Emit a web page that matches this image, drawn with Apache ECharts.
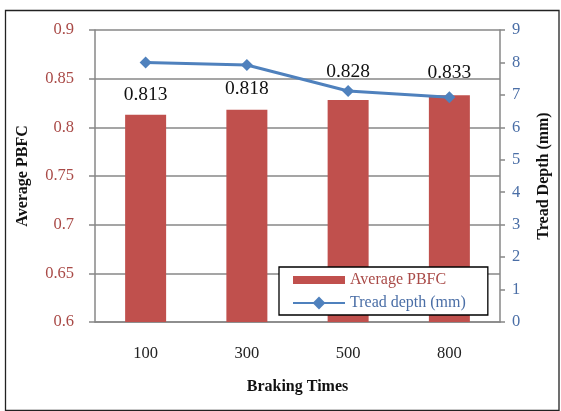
<!DOCTYPE html>
<html>
<head>
<meta charset="utf-8">
<script src="https://cdn.jsdelivr.net/npm/echarts@6/dist/echarts.min.js"></script>
<style>
html,body{margin:0;padding:0;background:#fff;}
#chart{width:561px;height:411px;}
</style>
</head>
<body>
<div id="chart"></div>
<script>
const categories = ['100', '300', '500', '800'];
const avgPBFC = [0.813, 0.818, 0.828, 0.833];
const treadDepth = [8.0, 7.92, 7.12, 6.93];
const leftTicks = { min: 0.6, max: 0.9, interval: 0.05 };
const rightTicks = { min: 0, max: 9, interval: 1 };

const labelDistance = [10, 11, 18, 12];
const serif = '"Liberation Serif", "DejaVu Serif", serif';
const RED = '#C0504D', BLUE = '#4F81BD';
const RED_TXT = '#A94A47', BLUE_TXT = '#4A6EA6';

const chart = echarts.init(document.getElementById('chart'), null, { renderer: 'canvas' });
chart.setOption({
  animation: false,
  backgroundColor: '#fff',
  textStyle: { fontFamily: serif },
  graphic: [{
    type: 'rect', shape: { x: 5.5, y: 10.5, width: 553.5, height: 400 },
    style: { fill: 'none', stroke: '#222', lineWidth: 1.3 }, z: -10
  }],
  grid: { left: 95, right: 61, top: 30, bottom: 89 },
  legend: {
    orient: 'vertical', left: 279, top: 267,
    backgroundColor: '#fff', borderColor: '#000', borderWidth: 1.3,
    padding: [5, 22, 4, 13], itemGap: 7, itemWidth: 52, itemHeight: 16,
    textStyle: { fontFamily: serif, fontSize: 16 },
    data: [
      { name: 'Average PBFC', icon: 'path://M0,4L52,4L52,12L0,12Z', textStyle: { color: RED_TXT } },
      { name: 'Tread depth (mm)', textStyle: { color: BLUE_TXT } }
    ]
  },
  xAxis: {
    type: 'category', data: categories,
    name: 'Braking Times', nameLocation: 'middle', nameGap: 57,
    nameTextStyle: { fontFamily: serif, fontWeight: 'bold', fontSize: 16, color: '#111' },
    axisLine: { lineStyle: { color: '#878787', width: 1.5 } },
    axisTick: { show: false },
    axisLabel: { margin: 23, fontSize: 16.5, color: '#222', fontFamily: serif }
  },
  yAxis: [{
    type: 'value', min: leftTicks.min, max: leftTicks.max, interval: leftTicks.interval,
    name: 'Average PBFC', nameLocation: 'middle', nameGap: 64, nameRotate: 90,
    nameTextStyle: { fontFamily: serif, fontWeight: 'bold', fontSize: 16, color: '#111' },
    axisLine: { show: true, lineStyle: { color: '#878787', width: 1.5 } },
    axisTick: { show: true, length: 6, lineStyle: { color: '#878787', width: 1.5 } },
    axisLabel: { margin: 21, fontSize: 16.5, color: RED_TXT, fontFamily: serif,
      formatter: v => String(+v.toFixed(2)) },
    splitLine: { show: true, lineStyle: { color: '#878787', width: 1.5 } }
  }, {
    type: 'value', min: rightTicks.min, max: rightTicks.max, interval: rightTicks.interval,
    position: 'right',
    name: 'Tread Depth (mm)', nameLocation: 'middle', nameGap: 36, nameRotate: 90,
    nameTextStyle: { fontFamily: serif, fontWeight: 'bold', fontSize: 16, color: '#111' },
    axisLine: { show: true, lineStyle: { color: '#878787', width: 1.5 } },
    axisTick: { show: true, length: 5, lineStyle: { color: '#878787', width: 1.5 } },
    axisLabel: { margin: 12, fontSize: 16.5, color: BLUE_TXT, fontFamily: serif },
    splitLine: { show: false }
  }],
  series: [{
    name: 'Average PBFC', type: 'bar', yAxisIndex: 0, barWidth: 41,
    itemStyle: { color: RED },
    data: avgPBFC.map((v, i) => ({
      value: v,
      label: { show: true, position: 'top', distance: labelDistance[i],
        fontSize: 19.5, color: '#111', fontFamily: serif, formatter: p => p.value.toFixed(3) }
    })),
    z: 2
  }, {
    name: 'Tread depth (mm)', type: 'line', yAxisIndex: 1,
    data: treadDepth,
    symbol: 'diamond', symbolSize: 12,
    lineStyle: { color: BLUE, width: 3 },
    itemStyle: { color: BLUE },
    z: 3
  }]
});
</script>
</body>
</html>
